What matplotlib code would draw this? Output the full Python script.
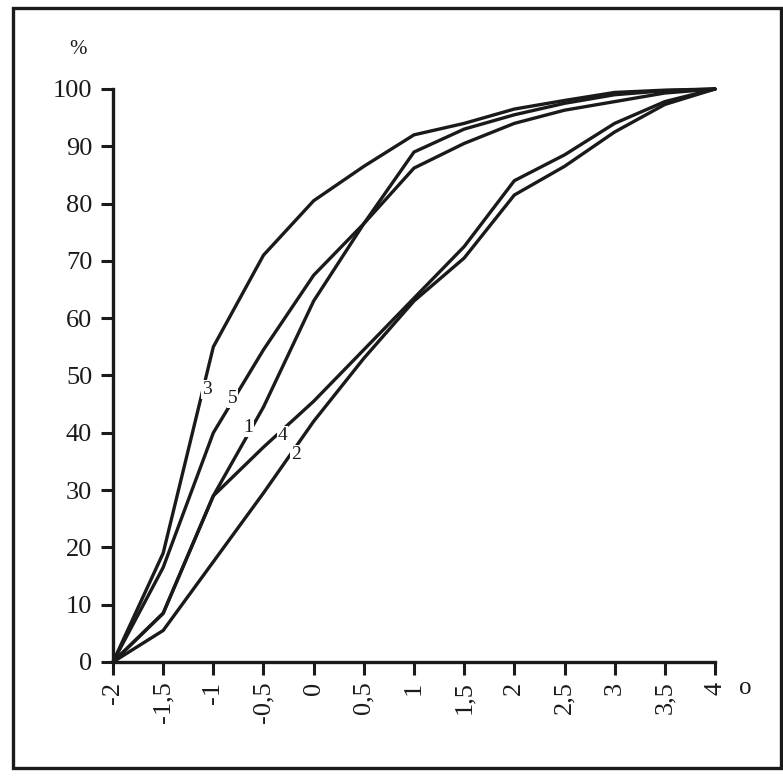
import matplotlib
matplotlib.use("Agg")
import matplotlib.pyplot as plt
from matplotlib.patches import Rectangle

# ---- data ----
x = [-2, -1.5, -1, -0.5, 0, 0.5, 1, 1.5, 2, 2.5, 3, 3.5, 4]
curve1 = [0, 8.5, 29, 44.5, 63, 76.5, 89, 93, 95.5, 97.5, 99, 99.7, 100]
curve2 = [0, 5.5, 17.5, 29.5, 42, 53, 63, 70.5, 81.5, 86.5, 92.5, 97.3, 100]
curve3 = [0, 19, 55, 71, 80.5, 86.5, 92, 94, 96.5, 98, 99.4, 99.8, 100]
curve4 = [0, 8.5, 29, 37.5, 45.5, 54.5, 63.5, 72.5, 84, 88.5, 94, 97.8, 100]
curve5 = [0, 16.5, 40, 54.5, 67.5, 76.5, 86.2, 90.5, 94, 96.3, 97.8, 99.3, 100]
labels = ["1", "2", "3", "4", "5"]
label_pos = [(-0.65, 41), (-0.18, 36.3), (-1.06, 47.5), (-0.31, 39.6), (-0.81, 46)]
yticks = [0, 10, 20, 30, 40, 50, 60, 70, 80, 90, 100]
xticks = [-2, -1.5, -1, -0.5, 0, 0.5, 1, 1.5, 2, 2.5, 3, 3.5, 4]
xticklabels = ["-2", "-1,5", "-1", "-0,5", "0", "0,5", "1", "1,5", "2", "2,5", "3", "3,5", "4"]

plt.rcParams['font.family'] = ['Liberation Serif', 'DejaVu Serif']

W, H = 783, 776
fig = plt.figure(figsize=(W / 100, H / 100), dpi=100)
ax = fig.add_axes([113 / W, 1 - 662 / H, (715 - 113) / W, (662 - 89) / H])

for ys in [curve1, curve2, curve3, curve4, curve5]:
    ax.plot(x, ys, color="#1a1a1a", lw=2.4, clip_on=False,
            solid_joinstyle="round", solid_capstyle="round")

for lab, (lx, ly) in zip(labels, label_pos):
    ax.text(lx, ly, lab, fontsize=14, ha="center", va="center", color="#1a1a1a",
            bbox=dict(boxstyle="square,pad=0.05", fc="white", ec="none"))

ax.set_xlim(-2, 4)
ax.set_ylim(0, 100)
for s in ["top", "right"]:
    ax.spines[s].set_visible(False)
for s in ["left", "bottom"]:
    ax.spines[s].set_linewidth(2.4)
    ax.spines[s].set_color("#1a1a1a")

ax.set_yticks(yticks)
ax.set_yticklabels([str(v) for v in yticks])
ax.set_xticks(xticks)
ax.set_xticklabels(xticklabels, rotation=90)
ax.tick_params(axis="both", direction="out", length=9, width=2.2, color="#1a1a1a",
               labelsize=19, labelcolor="#1a1a1a")
ax.tick_params(axis="y", pad=6)
ax.tick_params(axis="x", pad=5)

fig.text(78 / W, 1 - 50 / H, "%", fontsize=15, ha="center", va="center", color="#1a1a1a")
fig.text(745 / W, 1 - 688 / H, "o", fontsize=18, ha="center", va="center", color="#1a1a1a")

fig.add_artist(Rectangle((13 / W, 1 - 768 / H), (781 - 13) / W, (768 - 8) / H,
                         transform=fig.transFigure, fill=False, lw=2.4, ec="#1a1a1a"))

fig.savefig("out.png", dpi=100)
